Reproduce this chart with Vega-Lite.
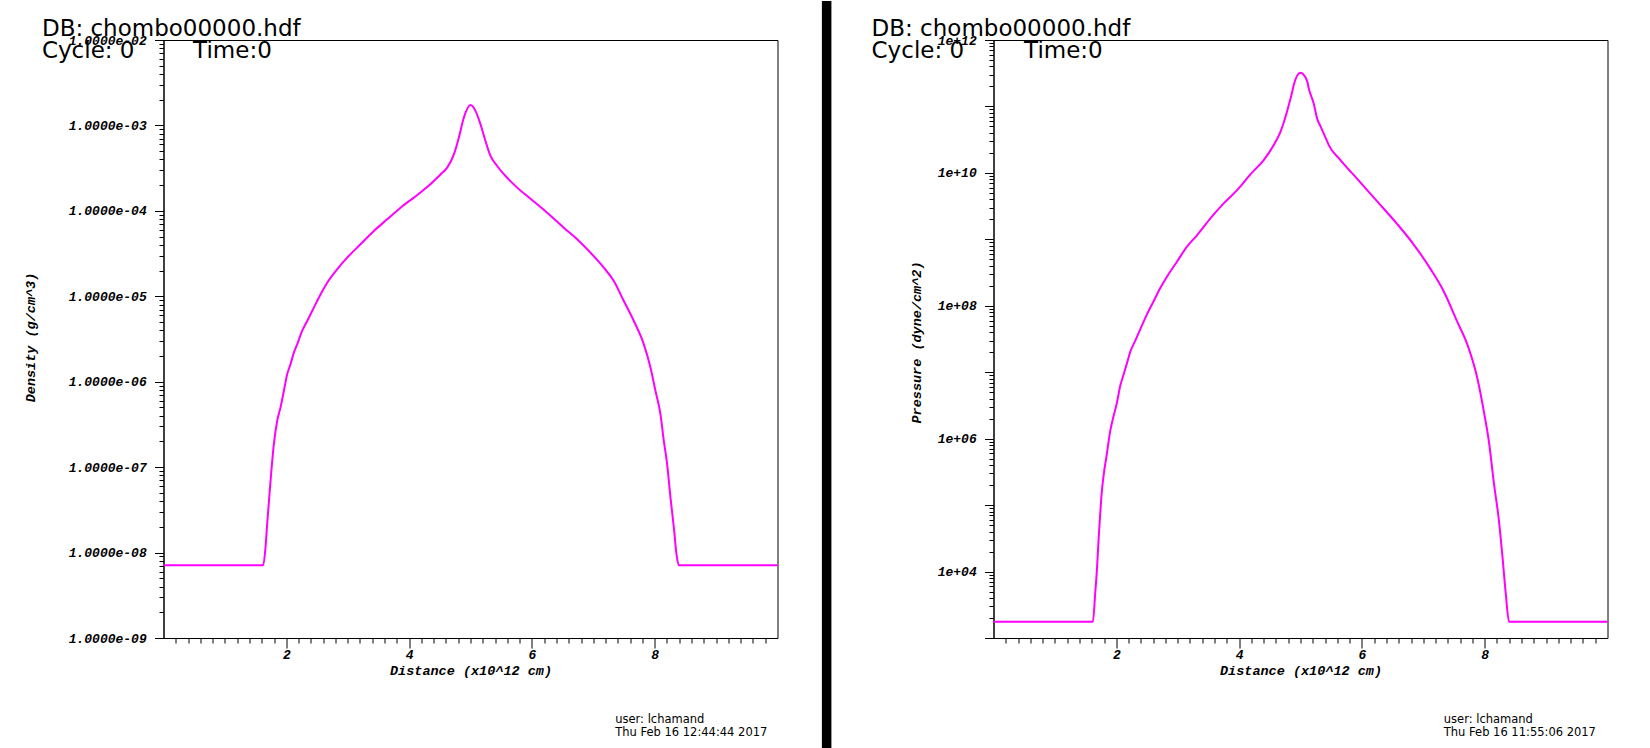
{
  "$schema": "https://vega.github.io/schema/vega-lite/v6.json",
  "background": "white",
  "padding": {"left": 22.5, "top": 0, "right": 0, "bottom": 0},
  "bounds": "flush",
  "spacing": 216,
  "config": {
    "view": {"stroke": "black", "strokeWidth": 1},
    "axis": {
      "grid": false,
      "domainColor": "black", "domainWidth": 1,
      "tickColor": "black", "tickWidth": 1, "tickCount": 500,
      "labelFont": "Liberation Mono", "labelFontSize": 13, "labelFontWeight": "bold", "labelFontStyle": "italic", "labelColor": "black",
      "titleFont": "Liberation Mono", "titleFontSize": 13.5, "titleFontWeight": "bold", "titleFontStyle": "italic", "titleColor": "black",
      "labelOverlap": false, "labelFlush": false, "labelBound": false
    }
  },
  "datasets": {
    "density": [
      {"x": 0, "density": 7.1e-9},
      {"x": 1.623, "density": 7.1e-9},
      {"x": 1.661, "density": 1.14e-8},
      {"x": 1.688, "density": 2.14e-8},
      {"x": 1.743, "density": 6.89e-8},
      {"x": 1.797, "density": 1.85e-7},
      {"x": 1.851, "density": 3.47e-7},
      {"x": 1.905, "density": 4.97e-7},
      {"x": 1.960, "density": 7.78e-7},
      {"x": 2.014, "density": 1.22e-6},
      {"x": 2.068, "density": 1.60e-6},
      {"x": 2.123, "density": 2.19e-6},
      {"x": 2.177, "density": 2.74e-6},
      {"x": 2.258, "density": 3.93e-6},
      {"x": 2.340, "density": 5.14e-6},
      {"x": 2.448, "density": 7.36e-6},
      {"x": 2.557, "density": 1.05e-5},
      {"x": 2.666, "density": 1.44e-5},
      {"x": 2.828, "density": 2.07e-5},
      {"x": 2.991, "density": 2.83e-5},
      {"x": 3.208, "density": 4.06e-5},
      {"x": 3.426, "density": 5.81e-5},
      {"x": 3.643, "density": 7.96e-5},
      {"x": 3.860, "density": 1.09e-4},
      {"x": 4.077, "density": 1.43e-4},
      {"x": 4.294, "density": 1.90e-4},
      {"x": 4.511, "density": 2.67e-4},
      {"x": 4.620, "density": 3.21e-4},
      {"x": 4.729, "density": 4.59e-4},
      {"x": 4.810, "density": 7.19e-4},
      {"x": 4.891, "density": 1.23e-3},
      {"x": 5.000, "density": 1.73e-3},
      {"x": 5.081, "density": 1.48e-3},
      {"x": 5.163, "density": 1.03e-3},
      {"x": 5.244, "density": 6.58e-4},
      {"x": 5.326, "density": 4.39e-4},
      {"x": 5.434, "density": 3.35e-4},
      {"x": 5.597, "density": 2.44e-4},
      {"x": 5.760, "density": 1.87e-4},
      {"x": 5.923, "density": 1.49e-4},
      {"x": 6.140, "density": 1.11e-4},
      {"x": 6.249, "density": 9.53e-5},
      {"x": 6.520, "density": 6.35e-5},
      {"x": 6.737, "density": 4.65e-5},
      {"x": 6.954, "density": 3.24e-5},
      {"x": 7.172, "density": 2.16e-5},
      {"x": 7.334, "density": 1.51e-5},
      {"x": 7.497, "density": 8.81e-6},
      {"x": 7.660, "density": 5.14e-6},
      {"x": 7.823, "density": 2.74e-6},
      {"x": 7.932, "density": 1.46e-6},
      {"x": 8.013, "density": 7.78e-7},
      {"x": 8.094, "density": 4.15e-7},
      {"x": 8.149, "density": 2.02e-7},
      {"x": 8.203, "density": 1.08e-7},
      {"x": 8.257, "density": 4.40e-8},
      {"x": 8.312, "density": 1.96e-8},
      {"x": 8.355, "density": 9.53e-9},
      {"x": 8.393, "density": 7.1e-9},
      {"x": 10, "density": 7.1e-9}
    ],
    "pressure": [
      {"x": 0, "pressure": 1760},
      {"x": 1.619, "pressure": 1760},
      {"x": 1.657, "pressure": 4790},
      {"x": 1.684, "pressure": 10500},
      {"x": 1.711, "pressure": 29800},
      {"x": 1.738, "pressure": 74100},
      {"x": 1.765, "pressure": 162000},
      {"x": 1.792, "pressure": 274000},
      {"x": 1.847, "pressure": 597000},
      {"x": 1.901, "pressure": 1.31e6},
      {"x": 1.956, "pressure": 2.20e6},
      {"x": 2.010, "pressure": 3.47e6},
      {"x": 2.064, "pressure": 6.25e6},
      {"x": 2.119, "pressure": 9.22e6},
      {"x": 2.173, "pressure": 1.36e7},
      {"x": 2.227, "pressure": 2.02e7},
      {"x": 2.309, "pressure": 2.99e7},
      {"x": 2.390, "pressure": 4.42e7},
      {"x": 2.499, "pressure": 7.43e7},
      {"x": 2.608, "pressure": 1.17e8},
      {"x": 2.716, "pressure": 1.85e8},
      {"x": 2.825, "pressure": 2.74e8},
      {"x": 2.988, "pressure": 4.61e8},
      {"x": 3.151, "pressure": 7.78e8},
      {"x": 3.314, "pressure": 1.15e9},
      {"x": 3.532, "pressure": 2.07e9},
      {"x": 3.749, "pressure": 3.48e9},
      {"x": 3.967, "pressure": 5.50e9},
      {"x": 4.184, "pressure": 9.5e9},
      {"x": 4.401, "pressure": 1.56e10},
      {"x": 4.564, "pressure": 2.62e10},
      {"x": 4.673, "pressure": 4.14e10},
      {"x": 4.727, "pressure": 5.74e10},
      {"x": 4.782, "pressure": 8.49e10},
      {"x": 4.863, "pressure": 1.63e11},
      {"x": 4.890, "pressure": 2.11e11},
      {"x": 4.999, "pressure": 3.21e11},
      {"x": 5.108, "pressure": 2.41e11},
      {"x": 5.135, "pressure": 1.86e11},
      {"x": 5.216, "pressure": 1.10e11},
      {"x": 5.271, "pressure": 6.55e10},
      {"x": 5.325, "pressure": 5.05e10},
      {"x": 5.434, "pressure": 2.99e10},
      {"x": 5.461, "pressure": 2.62e10},
      {"x": 5.651, "pressure": 1.56e10},
      {"x": 5.923, "pressure": 8.13e9},
      {"x": 6.249, "pressure": 3.72e9},
      {"x": 6.575, "pressure": 1.70e9},
      {"x": 6.847, "pressure": 8.28e8},
      {"x": 7.119, "pressure": 3.56e8},
      {"x": 7.336, "pressure": 1.63e8},
      {"x": 7.554, "pressure": 5.73e7},
      {"x": 7.717, "pressure": 2.62e7},
      {"x": 7.880, "pressure": 8.11e6},
      {"x": 7.988, "pressure": 2.51e6},
      {"x": 8.070, "pressure": 883000},
      {"x": 8.151, "pressure": 210000},
      {"x": 8.233, "pressure": 57000},
      {"x": 8.287, "pressure": 17700},
      {"x": 8.342, "pressure": 4790},
      {"x": 8.396, "pressure": 1760},
      {"x": 10, "pressure": 1760}
    ]
  },
  "hconcat": [
    {
      "width": 614,
      "height": 598,
      "layer": [
        {
          "data": {"name": "density"},
          "mark": {"type": "line", "color": "#ff00ff", "strokeWidth": 2, "interpolate": "monotone"},
          "encoding": {
            "x": {
              "field": "x", "type": "quantitative",
              "scale": {"domain": [0, 10], "nice": false, "zero": false},
              "axis": {
                "title": "Distance (x10^12 cm)",
                "titleBaseline": "alphabetic", "titleY": 36,
                "values": [0.2,0.4,0.6,0.8,1,1.2,1.4,1.6,1.8,2,2.2,2.4,2.6,2.8,3,3.2,3.4,3.6,3.8,4,4.2,4.4,4.6,4.8,5,5.2,5.4,5.6,5.8,6,6.2,6.4,6.6,6.8,7,7.2,7.4,7.6,7.8,8,8.2,8.4,8.6,8.8,9,9.2,9.4,9.6,9.8],
                "tickSize": {"condition": {"test": "abs(datum.value - round(datum.value/2)*2) < 0.01", "value": 10}, "value": 5},
                "labelExpr": "abs(datum.value - round(datum.value/2)*2) < 0.01 ? format(datum.value, 'd') : ''",
                "labelPadding": 0
              }
            },
            "y": {
              "field": "density", "type": "quantitative",
              "scale": {"type": "log", "domain": [1e-9, 1e-2], "nice": false},
              "axis": {
                "title": "Density (g/cm^3)",
                "titleAngle": 270, "titleBaseline": "alphabetic", "titleAlign": "center",
                "titleX": -128.6, "titleY": 297,
                "values": [1e-9,2e-9,3e-9,4e-9,5e-9,6e-9,7e-9,8e-9,9e-9,1e-8,2e-8,3e-8,4e-8,5e-8,6e-8,7e-8,8e-8,9e-8,1e-7,2e-7,3e-7,4e-7,5e-7,6e-7,7e-7,8e-7,9e-7,1e-6,2e-6,3e-6,4e-6,5e-6,6e-6,7e-6,8e-6,9e-6,1e-5,2e-5,3e-5,4e-5,5e-5,6e-5,7e-5,8e-5,9e-5,1e-4,2e-4,3e-4,4e-4,5e-4,6e-4,7e-4,8e-4,9e-4,1e-3,2e-3,3e-3,4e-3,5e-3,6e-3,7e-3,8e-3,9e-3,1e-2],
                "tickSize": {"condition": {"test": "abs(log(datum.value)/LN10 - round(log(datum.value)/LN10)) < 0.001", "value": 9}, "value": 4.5},
                "labelExpr": "abs(log(datum.value)/LN10 - round(log(datum.value)/LN10)) < 0.001 ? ('1.0000e-0' + abs(round(log(datum.value)/LN10))) : ''",
                "labelPadding": 8.3
              }
            }
          }
        },
        {
          "data": {"values": [{}]},
          "mark": {"type": "text", "text": ["DB: chombo00000.hdf", "Cycle: 0"], "align": "left", "baseline": "alphabetic", "font": "DejaVu Sans", "fontSize": 23, "fontWeight": "normal", "lineHeight": 22, "color": "black"},
          "encoding": {"x": {"datum": -1.98}, "y": {"datum": 0.01123}}
        },
        {
          "data": {"values": [{}]},
          "mark": {"type": "text", "text": "Time:0", "align": "left", "baseline": "alphabetic", "font": "DejaVu Sans", "fontSize": 23, "fontWeight": "normal", "color": "black"},
          "encoding": {"x": {"datum": 0.482}, "y": {"datum": 0.00619}}
        },
        {
          "data": {"values": [{}]},
          "mark": {"type": "text", "text": ["user: lchamand", "Thu Feb 16 12:44:44 2017"], "align": "left", "baseline": "alphabetic", "font": "DejaVu Sans", "fontSize": 11.5, "lineHeight": 12.5, "color": "black"},
          "encoding": {"x": {"datum": 7.357}, "y": {"datum": 1e-10}}
        }
      ]
    },
    {
      "width": 614,
      "height": 598,
      "layer": [
        {
          "data": {"name": "pressure"},
          "mark": {"type": "line", "color": "#ff00ff", "strokeWidth": 2, "interpolate": "monotone"},
          "encoding": {
            "x": {
              "field": "x", "type": "quantitative",
              "scale": {"domain": [0, 10], "nice": false, "zero": false},
              "axis": {
                "title": "Distance (x10^12 cm)",
                "titleBaseline": "alphabetic", "titleY": 36,
                "values": [0.2,0.4,0.6,0.8,1,1.2,1.4,1.6,1.8,2,2.2,2.4,2.6,2.8,3,3.2,3.4,3.6,3.8,4,4.2,4.4,4.6,4.8,5,5.2,5.4,5.6,5.8,6,6.2,6.4,6.6,6.8,7,7.2,7.4,7.6,7.8,8,8.2,8.4,8.6,8.8,9,9.2,9.4,9.6,9.8],
                "tickSize": {"condition": {"test": "abs(datum.value - round(datum.value/2)*2) < 0.01", "value": 10}, "value": 5},
                "labelExpr": "abs(datum.value - round(datum.value/2)*2) < 0.01 ? format(datum.value, 'd') : ''",
                "labelPadding": 0
              }
            },
            "y": {
              "field": "pressure", "type": "quantitative",
              "scale": {"type": "log", "domain": [1000, 1e12], "nice": false},
              "axis": {
                "title": "Pressure (dyne/cm^2)",
                "titleAngle": 270, "titleBaseline": "alphabetic", "titleAlign": "center",
                "titleX": -73.5, "titleY": 302,
                "values": [1e3,2e3,3e3,4e3,5e3,6e3,7e3,8e3,9e3,1e4,2e4,3e4,4e4,5e4,6e4,7e4,8e4,9e4,1e5,2e5,3e5,4e5,5e5,6e5,7e5,8e5,9e5,1e6,2e6,3e6,4e6,5e6,6e6,7e6,8e6,9e6,1e7,2e7,3e7,4e7,5e7,6e7,7e7,8e7,9e7,1e8,2e8,3e8,4e8,5e8,6e8,7e8,8e8,9e8,1e9,2e9,3e9,4e9,5e9,6e9,7e9,8e9,9e9,1e10,2e10,3e10,4e10,5e10,6e10,7e10,8e10,9e10,1e11,2e11,3e11,4e11,5e11,6e11,7e11,8e11,9e11,1e12],
                "tickSize": {"condition": {"test": "abs(log(datum.value)/LN10 - round(log(datum.value)/LN10)) < 0.001", "value": 9}, "value": 4.5},
                "labelExpr": "(abs(log(datum.value)/LN10 - round(log(datum.value)/LN10)) < 0.001 && round(log(datum.value)/LN10) % 2 == 0) ? ('1e+' + (round(log(datum.value)/LN10) < 10 ? '0' : '') + round(log(datum.value)/LN10)) : ''",
                "labelPadding": 8.3
              }
            }
          }
        },
        {
          "data": {"values": [{}]},
          "mark": {"type": "rect", "color": "black"},
          "encoding": {"x": {"datum": -2.795}, "x2": {"datum": -2.64}, "y": {"datum": 3.864e12}, "y2": {"datum": 21.35}}
        },
        {
          "data": {"values": [{}]},
          "mark": {"type": "text", "text": ["DB: chombo00000.hdf", "Cycle: 0"], "align": "left", "baseline": "alphabetic", "font": "DejaVu Sans", "fontSize": 23, "fontWeight": "normal", "lineHeight": 22, "color": "black"},
          "encoding": {"x": {"datum": -1.986}, "y": {"datum": 1.161e12}}
        },
        {
          "data": {"values": [{}]},
          "mark": {"type": "text", "text": "Time:0", "align": "left", "baseline": "alphabetic", "font": "DejaVu Sans", "fontSize": 23, "fontWeight": "normal", "color": "black"},
          "encoding": {"x": {"datum": 0.498}, "y": {"datum": 5.4e11}}
        },
        {
          "data": {"values": [{}]},
          "mark": {"type": "text", "text": ["user: lchamand", "Thu Feb 16 11:55:06 2017"], "align": "left", "baseline": "alphabetic", "font": "DejaVu Sans", "fontSize": 11.5, "lineHeight": 12.5, "color": "black"},
          "encoding": {"x": {"datum": 7.334}, "y": {"datum": 51.7}}
        }
      ]
    }
  ]
}
